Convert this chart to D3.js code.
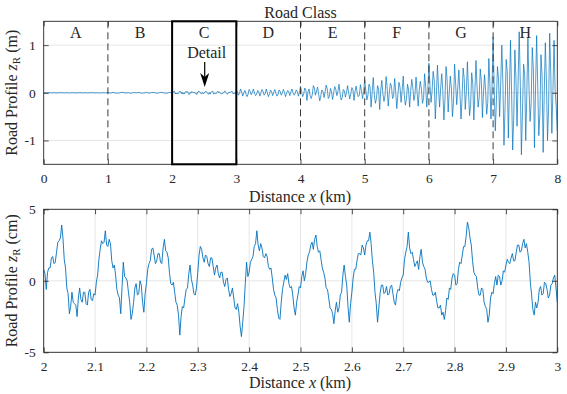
<!DOCTYPE html>
<html><head><meta charset="utf-8">
<script src="https://cdn.jsdelivr.net/npm/d3@7"></script>
<style>
body{margin:0;background:#fff}
text{font-family:"Liberation Serif","DejaVu Serif",serif;fill:#262626}
</style>
</head><body><svg id="c" width="567" height="394"></svg>
<script>
// ---------------- data ----------------
const classLabels = ["A","B","C","D","E","F","G","H"];
const classBounds = [1,4,5,6,7];            // dashed separators (2 and 3 are the detail box)
const detailRange = [2,3];
const topXTicks = [0,1,2,3,4,5,6,7,8];
const topYTicks = [-1,0,1];
const botXTicks = [2,2.1,2.2,2.3,2.4,2.5,2.6,2.7,2.8,2.9,3];
const botYTicks = [-5,0,5];

// road profile (m), one array per class, evenly spaced over 1 km
const classA = [0.002,-0.003,0.004,-0.002,0.003,-0.004,0.001,0.004,-0.003,0.002,-0.004,0.003,0.000,-0.003,0.004,-0.002,0.003,-0.004,0.002,0.003,-0.003,0.001,-0.004,0.003,-0.001];
const classB = [0.006,-0.008,0.010,-0.004,-0.009,0.007,0.009,-0.006,0.003,-0.010,0.008,-0.002,0.009,-0.007,-0.004,0.010,-0.008,0.005,0.008,-0.009,0.002,0.010,-0.006,-0.008,0.007];
const classD = [0.06,0.01,-0.05,-0.01, 0.08,0.02,-0.07,0.00, 0.05,-0.02,-0.08,-0.03, 0.07,0.03,-0.04,0.01, 0.08,-0.01,-0.06,-0.03, 0.05,0.02,-0.07,0.00, 0.07,0.03,-0.05,-0.02, 0.08,0.00,-0.08,-0.02, 0.06,0.02,-0.06,0.01, 0.07,-0.01,-0.07,-0.03, 0.06,0.03,-0.05,0.00, 0.07,0.01,-0.08,-0.01, 0.05,0.02,-0.06,0.02, 0.08,0.00,-0.05,-0.02, 0.06,0.03,-0.07,0.00];
const classE = [0.14,0.03,-0.08,-0.02, 0.10,0.06,-0.16,0.02, 0.08,-0.06,-0.12,-0.04, 0.15,0.10,-0.05,0.04, 0.12,-0.04,-0.17,-0.06, 0.06,0.03,-0.10,0.02, 0.16,0.08,-0.12,-0.08, 0.09,0.02,-0.14,0.00, 0.13,0.07,-0.06,0.03, 0.18,-0.02,-0.15,-0.10, 0.07,0.04,-0.09,0.01, 0.15,0.00,-0.13,-0.02, 0.11,0.06,-0.16,0.04, 0.14,-0.01,-0.08,-0.05, 0.17,0.05,-0.12,0.02];
const classF = [0.28,0.05,-0.15,-0.05, 0.18,0.12,-0.30,0.02, 0.32,-0.04,-0.22,-0.12, 0.15,0.08,-0.35,0.06, 0.26,-0.02,-0.18,-0.06, 0.34,0.10,-0.28,0.00, 0.20,0.14,-0.12,-0.08, 0.30,0.02,-0.33,-0.05, 0.22,0.12,-0.20,0.05, 0.35,-0.06,-0.26,-0.14, 0.18,0.06,-0.30,0.04, 0.28,0.10,-0.16,-0.03, 0.33,0.00,-0.28,0.06, 0.24,0.08,-0.22,-0.12, 0.40,0.12,-0.30,0.05];
const classG = [0.62,0.15,-0.20,0.05, 0.45,0.25,-0.55,-0.05, 0.58,0.10,-0.30,0.10, 0.40,0.05,-0.57,-0.15, 0.55,0.28,-0.40,0.00, 0.35,0.10,-0.50,-0.20, 0.60,0.18,-0.25,0.10, 0.48,0.00,-0.55,-0.10, 0.52,0.30,-0.35,0.02, 0.65,0.05,-0.48,-0.25, 0.42,0.20,-0.57,0.05, 0.68,0.12,-0.30,-0.10, 0.50,0.25,-0.52,0.00, 0.38,0.05,-0.45,-0.20, 0.72,0.20,-0.55,0.10];
const classH = [1.17,0.10,-0.80,-0.20, 0.55,0.30,-0.50,0.20, 1.00,0.20,-1.10,-0.30, 0.70,0.45,-0.95,0.05, 1.10,0.00,-1.20,-0.50, 0.90,0.30,-0.70,0.25, 1.28,0.20,-1.30,-0.40, 0.60,0.40,-1.00,0.00, 1.15,0.10,-0.60,-0.20, 0.95,0.50,-1.15,0.10, 1.20,0.15,-0.90,-0.45, 0.80,0.35,-1.25,0.00, 1.05,0.25,-1.00,-0.30, 1.25,0.40,-0.85,0.05, 1.10,0.05,-0.30,-0.80];

// detail of class C, 2 km to 3 km (cm), evenly spaced (401 samples)
const detailCm = [
0.8,0.5,-0.6,0.6,0.9,0.9,1.6,1.7,1.2,1.3,2.0,2.7,2.8,3.0,3.9,3.0,1.5,0.9,-0.5,-0.9,-2.3,-1.8,-0.8,-1.5,-1.6,-1.7,-2.5,-1.2,-0.5,-1.3,-1.5,-0.8,-0.8,-1.6,-1.7,-0.8,-0.6,-1.3,-1.4,-0.9,
-1.0,-0.1,0.4,1.5,2.2,2.8,2.6,2.7,3.5,2.5,2.4,2.9,2.6,1.4,0.9,1.1,0.4,-0.6,-1.0,-1.2,-2.3,-0.5,1.3,0.3,0.2,0.0,-0.8,-1.5,-2.7,-2.3,-1.5,-0.5,-0.2,-1.0,-0.9,0.0,-0.3,-1.5,-2.2,-0.9,
-0.2,0.8,1.2,1.4,2.2,2.3,1.8,1.2,1.4,1.9,1.9,1.3,1.2,2.3,2.9,2.1,2.0,1.6,0.5,-0.2,-0.3,-0.1,-0.8,-1.5,-1.7,-2.4,-3.8,-2.5,-1.8,-1.9,-1.2,-0.6,-0.5,0.5,1.1,0.1,-0.3,-0.9,-1.0,-0.5,
0.6,1.8,2.4,2.2,1.6,1.3,1.8,1.7,1.2,1.0,1.6,1.6,1.0,0.4,0.9,1.1,0.5,0.2,0.6,0.6,-0.1,-0.4,0.1,0.2,-0.6,-1.1,-0.9,-0.5,-1.2,-1.9,-2.0,-1.6,-2.2,-3.2,-3.9,-2.9,-1.8,-0.2,1.3,0.3,
0.6,1.3,1.5,1.7,2.4,2.6,3.5,2.5,2.1,2.6,2.3,1.7,1.6,1.9,1.7,1.0,0.8,0.9,0.2,-0.6,-1.0,-1.2,-2.0,-2.6,-2.7,-1.5,-0.6,-0.1,0.4,0.1,0.5,-0.2,-0.5,-0.4,-1.0,-1.9,-2.4,-1.5,-1.0,-0.4,
-0.5,0.3,0.7,0.0,0.5,1.3,1.8,2.0,2.5,2.7,2.2,2.9,3.2,2.4,2.0,2.1,1.5,0.9,0.6,0.2,-0.5,-0.6,-1.2,-1.9,-2.0,-2.3,-3.0,-2.1,-1.5,-2.2,-1.9,-1.0,-0.8,0.4,1.1,0.3,-0.3,-1.8,-2.9,-1.6,
-0.8,0.2,0.8,0.8,1.4,1.9,1.9,1.8,2.5,2.3,1.8,2.5,2.8,2.8,3.4,2.6,1.4,0.6,-0.8,-1.6,-2.9,-1.9,-0.9,-0.3,-0.3,-0.9,-0.8,-0.4,-1.0,-0.9,-0.4,-0.3,-0.9,-1.5,-1.7,-0.9,-0.6,-0.7,-0.1,0.2,
0.4,1.5,2.0,2.4,3.4,2.3,1.9,2.0,1.5,1.0,1.2,1.4,0.8,1.7,2.2,1.3,1.0,0.8,0.2,-0.1,-0.1,0.0,-0.6,-1.0,-1.0,-0.8,-1.4,-1.9,-1.9,-1.7,-2.4,-2.2,-2.7,-2.1,-1.2,-1.3,-0.5,-0.6,0.2,0.5,
0.4,-0.3,-0.2,0.8,1.3,1.2,1.8,2.4,2.4,3.1,4.1,3.7,3.0,2.5,1.4,0.6,0.4,0.3,-0.5,-1.0,-1.0,-0.5,-0.6,-1.5,-1.8,-2.0,-2.9,-2.4,-1.2,-0.8,-0.9,-0.2,0.3,-0.3,0.4,0.3,-0.3,0.0,0.7,0.6,
1.1,1.5,1.3,1.2,1.6,1.9,1.4,1.4,2.0,2.5,2.5,2.0,2.1,2.6,2.9,2.3,2.6,2.0,1.3,-0.1,-1.0,-2.0,-2.4,-1.5,-1.9,-1.5,-0.6,-0.4,-1.0,-0.9,-0.1,-0.2,-0.6,-1.2,-1.0,-0.3,-0.2,0.2,0.4,-0.5,-1.5];

// ---------------- build series ----------------
function spread(vals, x0, x1, closed) {
  const n = closed ? vals.length - 1 : vals.length;
  return vals.map((v, i) => ({x: x0 + (x1 - x0) * i / n, y: v}));
}
const topSeries = [].concat(
  spread(classA, 0, 1, false),
  spread(classB, 1, 2, false),
  spread(detailCm.map(v => v / 100), 2, 3, false),
  spread(classD, 3, 4, false),
  spread(classE, 4, 5, false),
  spread(classF, 5, 6, false),
  spread(classG, 6, 7, false),
  spread(classH, 7, 8, true)
);
const botSeries = spread(detailCm, detailRange[0], detailRange[1], true);

// ---------------- drawing ----------------
const svg = d3.select("#c");
const blue = "#0072BD";
const axisCol = "#262626";
const gridCol = "#e6e6e6";

function panel(opts) {
  const {x, y, xTicks, yTicks, xFmt, data, lineW, vGrid} = opts;
  const [L, R] = x.range(), [B, T] = y.range();
  const g = svg.append("g");
  g.selectAll(".hg").data(yTicks).join("line")
    .attr("x1", L).attr("x2", R).attr("y1", d => y(d)).attr("y2", d => y(d))
    .attr("stroke", gridCol).attr("stroke-width", 1);
  if (vGrid) g.selectAll(".vg").data(xTicks).join("line")
    .attr("y1", T).attr("y2", B).attr("x1", d => x(d)).attr("x2", d => x(d))
    .attr("stroke", gridCol).attr("stroke-width", 1);
  const clipId = "clip" + Math.round(T);
  svg.append("clipPath").attr("id", clipId).append("rect")
    .attr("x", L).attr("y", T).attr("width", R - L).attr("height", B - T);
  const lg = g.append("g").attr("clip-path", `url(#${clipId})`);
  if (opts.before) opts.before(g);
  lg.append("path").datum(data)
    .attr("d", d3.line().x(d => x(d.x)).y(d => y(d.y)))
    .attr("fill", "none").attr("stroke", blue).attr("stroke-width", lineW)
    .attr("stroke-linejoin", "round");
  const ax = g.append("g").attr("transform", `translate(0,${B})`)
    .call(d3.axisBottom(x).tickValues(xTicks).tickFormat(xFmt).tickSizeInner(-5).tickSizeOuter(0).tickPadding(9));
  const axT = g.append("g").attr("transform", `translate(0,${T})`)
    .call(d3.axisTop(x).tickValues(xTicks).tickFormat("").tickSizeInner(-5).tickSizeOuter(0));
  const ay = g.append("g").attr("transform", `translate(${L},0)`)
    .call(d3.axisLeft(y).tickValues(yTicks).tickFormat(d => String(d)).tickSizeInner(-5).tickSizeOuter(0).tickPadding(8));
  const ayR = g.append("g").attr("transform", `translate(${R},0)`)
    .call(d3.axisRight(y).tickValues(yTicks).tickFormat("").tickSizeInner(-5).tickSizeOuter(0));
  [ax, axT, ay, ayR].forEach(a => {
    a.attr("font-family", null);
    a.select(".domain").remove();
    a.selectAll("line").attr("stroke", axisCol).attr("stroke-width", 0.8);
    a.selectAll("text").style("font-family", '"Liberation Serif","DejaVu Serif",serif')
      .style("font-size", "13.5px").attr("fill", axisCol);
  });
  g.append("rect").attr("x", L).attr("y", T).attr("width", R - L).attr("height", B - T)
    .attr("fill", "none").attr("stroke", axisCol).attr("stroke-width", 0.9);
  return g;
}

function yLabel(g, cx, cy, unit) {
  const t = g.append("text").attr("transform", `translate(${cx},${cy}) rotate(-90)`)
    .attr("text-anchor", "middle").style("font-size", "16px");
  t.append("tspan").text("Road Profile ");
  t.append("tspan").attr("font-style", "italic").text("z");
  t.append("tspan").attr("dy", 3).style("font-size", "11px").text("R");
  t.append("tspan").attr("dy", -3).text(" (" + unit + ")");
}
function xLabel(g, cx, cy) {
  const t = g.append("text").attr("x", cx).attr("y", cy).attr("text-anchor", "middle").style("font-size", "16px");
  t.append("tspan").text("Distance ");
  t.append("tspan").attr("font-style", "italic").text("x");
  t.append("tspan").text(" (km)");
}

// top panel
const xTop = d3.scaleLinear([0, 8], [43.7, 557.3]);
const yTop = d3.scaleLinear([-1.5, 1.5], [164.3, 21.3]);
const gTop = panel({
  x: xTop, y: yTop, xTicks: topXTicks, yTicks: topYTicks, xFmt: d3.format("d"),
  data: topSeries, lineW: 0.7, vGrid: false,
  before: g => {
    g.selectAll(".sep").data(classBounds).join("line")
      .attr("x1", d => xTop(d)).attr("x2", d => xTop(d))
      .attr("y1", yTop(1.5)).attr("y2", yTop(-1.5))
      .attr("stroke", "#3a3a3a").attr("stroke-width", 1).attr("stroke-dasharray", "7,4");
  }
});
gTop.append("rect").attr("x", xTop(detailRange[0])).attr("y", yTop(1.5))
  .attr("width", xTop(detailRange[1]) - xTop(detailRange[0])).attr("height", yTop(-1.5) - yTop(1.5))
  .attr("fill", "none").attr("stroke", "#000").attr("stroke-width", 2);
gTop.selectAll(".cls").data(classLabels).join("text")
  .attr("x", (d, i) => xTop(i + 0.5)).attr("y", 37.5).attr("text-anchor", "middle")
  .style("font-size", "16px").text(d => d);
gTop.append("text").attr("x", xTop(4)).attr("y", 18).attr("text-anchor", "middle")
  .style("font-size", "16px").text("Road Class");
const ax0 = xTop(2.5) + 0.5;
gTop.append("text").attr("x", ax0 + 2).attr("y", 58).attr("text-anchor", "middle")
  .style("font-size", "16px").text("Detail");
gTop.append("line").attr("x1", ax0).attr("x2", ax0).attr("y1", 62).attr("y2", 78)
  .attr("stroke", "#000").attr("stroke-width", 1.2);
gTop.append("path").attr("d", `M${ax0},${87} L${ax0 - 4.5},${73} L${ax0},${77} L${ax0 + 4.5},${73} Z`)
  .attr("fill", "#000");
yLabel(gTop, 17, 92.7, "m");
xLabel(gTop, 300, 202);

// bottom panel
const xBot = d3.scaleLinear(detailRange, [43.7, 557.3]);
const yBot = d3.scaleLinear([-5, 5], [352.3, 209.3]);
const gBot = panel({
  x: xBot, y: yBot, xTicks: botXTicks, yTicks: botYTicks, xFmt: d => String(+d.toFixed(1)),
  data: botSeries, lineW: 0.9, vGrid: true
});
yLabel(gBot, 17, 280.8, "cm");
xLabel(gBot, 300, 388);
</script>
</body></html>
